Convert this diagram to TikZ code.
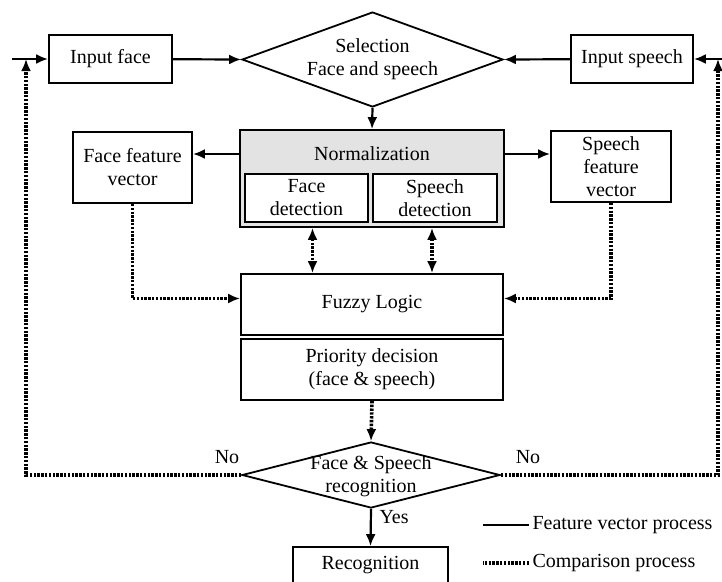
\documentclass[tikz,border=0pt]{standalone}
\usepackage{fontspec}
\setmainfont{Liberation Serif}
\usetikzlibrary{arrows.meta, shapes.geometric}
\tikzset{>={Latex[length=12pt,width=10pt]}}
\tikzset{
  box/.style = {draw, line width=1.8pt, align=center, inner sep=0pt},
  decision/.style = {draw, diamond, line width=1.8pt, inner sep=0pt},
  feat/.style = {line width=2.2pt},
  cmp/.style = {line width=3.6pt, dash pattern=on 2.4pt off 1.4pt},
}
\definecolor{normgray}{gray}{0.89}

\begin{document}
\begin{tikzpicture}[x=1pt, y=-1pt, font=\fontsize{20}{23}\selectfont]
		\useasboundingbox (0,0) rectangle (722,581);
		\clip (0,0) rectangle (722,581);
		
		% Inputs and selection
		\node[box, minimum width=123, minimum height=48] (face) at (110.5,59) {Input face};
		\node[box, minimum width=122, minimum height=48] (speech) at (632,59) {Input speech};
		\node[decision, minimum width=261, minimum height=95] (sel) at (372.5,59.5) {};
		\node[align=center] (seltext) at (sel) {Selection\\Face and speech};
		
		% Normalization
		\node[box, fill=normgray, minimum width=264, minimum height=97] (norm) at (372,178.5) {};
		\node (normtitle) at (372,154) {Normalization};
		\node[box, fill=white, minimum width=123, minimum height=48] (facedet) at (306.5,198) {Face\\detection};
		\node[box, fill=white, minimum width=124, minimum height=48] (speechdet) at (435,198) {Speech\\detection};
		
		% Feature vectors
		\node[box, minimum width=119, minimum height=71] (ffv) at (132.5,167.5) {Face feature\\vector};
		\node[box, minimum width=120, minimum height=71] (sfv) at (611,166.5) {Speech\\feature\\vector};
		
		% Fuzzy logic and decision
		\node[box, minimum width=262, minimum height=61] (fuzzy) at (372,304.5) {Fuzzy Logic};
		\node[box, minimum width=262, minimum height=61] (prio) at (372,369.5) {Priority decision\\(face \& speech)};
		\node[decision, minimum width=258, minimum height=66] (dec2) at (371,475) {};
		\node[align=center] (dec2text) at (371,476) {Face \& Speech\\recognition};
		\node[box, minimum width=155, minimum height=36] (recog) at (370.5,565) {Recognition};
		
		% Feature vector process
		\coordinate (inL) at (12,59);
		\coordinate (inR) at (722,59);
		\draw[feat,->] (inL) -- (face);
		\draw[feat,->] (inR) -- (speech);
		\draw[feat,->] (face) -- (sel.west);
		\draw[feat,->] (speech) -- (sel.east);
		\draw[feat,->] (sel.south) -- (norm.north);
		\draw[feat,->] (norm.west |- normtitle) -- (ffv.east |- normtitle);
		\draw[feat,->] (norm.east |- normtitle) -- (sfv.west |- normtitle);
		\draw[feat,->] (dec2.south) -- (recog.north);
		\node[anchor=west] (yes) at (376,517) {Yes};
		
		% Comparison process
		\coordinate (backL) at (26,59);
		\coordinate (backR) at (718,59);
		\draw[cmp,<->] ([xshift=6pt]norm.south -| facedet) -- ([xshift=6pt]fuzzy.north -| facedet);
		\draw[cmp,<->] ([xshift=-3pt]norm.south -| speechdet) -- ([xshift=-3pt]fuzzy.north -| speechdet);
		\draw[cmp,->] (ffv.south) |- ([yshift=6pt]fuzzy.west);
		\draw[cmp,->] (sfv.south) |- ([yshift=6pt]fuzzy.east);
		\draw[cmp,->] (prio.south) -- (dec2.north);
		\draw[cmp,->] (dec2.west) -| (backL);
		\draw[cmp,->] (dec2.east) -| (backR);
		\node (noL) at (227,457) {No};
		\node (noR) at (528,457) {No};
		
		% Legend
		\node[anchor=west] (legfeat) at (529,525) {Feature vector process};
		\node[anchor=west] (legcmp) at (529,563) {Comparison process};
		\draw[feat] (legfeat.west) -- ++(-46,0);
		\draw[cmp] (legcmp.west) -- ++(-46,0);
	\end{tikzpicture}
\end{document}
